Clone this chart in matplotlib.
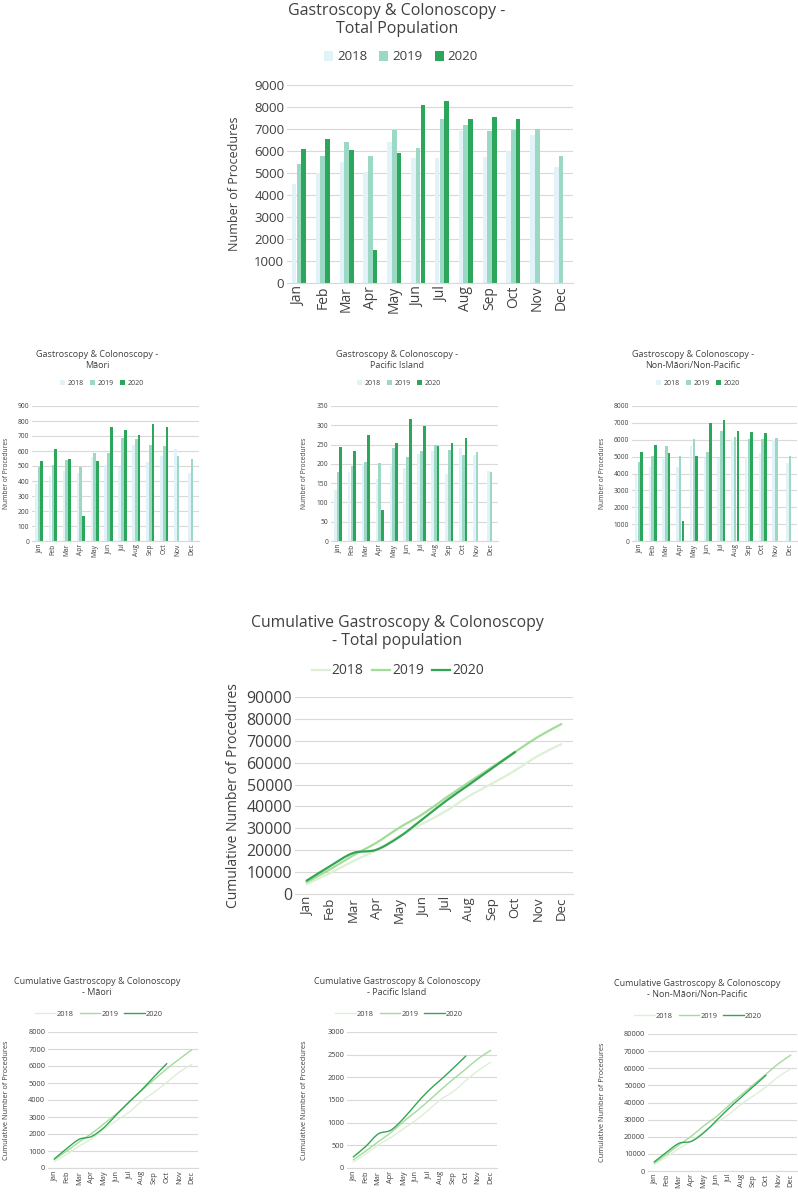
import matplotlib
matplotlib.use("Agg")
import matplotlib.pyplot as plt
from matplotlib.path import Path
from matplotlib.patches import PathPatch
from matplotlib.lines import Line2D
import numpy as np

plt.rcParams['font.family'] = ['Open Sans', 'DejaVu Sans']

W, H = 798, 1192
months = ["Jan", "Feb", "Mar", "Apr", "May", "Jun", "Jul", "Aug", "Sep", "Oct", "Nov", "Dec"]
years = ["2018", "2019", "2020"]

# ---- Monthly procedures ----
total_2018 = [4490, 4980, 5480, 5040, 6420, 5700, 5680, 6890, 5750, 6010, 6740, 5280]
total_2019 = [5400, 5770, 6390, 5770, 6950, 6130, 7440, 7160, 6920, 6950, 6980, 5770]
total_2020 = [6085, 6555, 6040, 1490, 5890, 8070, 8250, 7470, 7530, 7470]

maori_2018 = [378, 434, 467, 454, 557, 509, 496, 642, 527, 564, 613, 451]
maori_2019 = [496, 504, 540, 493, 584, 586, 688, 677, 637, 631, 569, 549]
maori_2020 = [531, 613, 546, 168, 535, 761, 739, 704, 781, 763]

pacific_2018 = [132, 179, 199, 160, 194, 188, 225, 234, 175, 242, 223, 181]
pacific_2019 = [180, 194, 204, 201, 242, 219, 234, 249, 236, 224, 230, 180]
pacific_2020 = [244, 233, 275, 81, 254, 316, 298, 246, 255, 266]

other_2018 = [3910, 4380, 4850, 4380, 5620, 4910, 4910, 5970, 4990, 5190, 5970, 4600]
other_2019 = [4680, 5030, 5620, 5030, 6070, 5300, 6500, 6190, 6050, 6050, 6130, 5030]
other_2020 = [5300, 5680, 5190, 1180, 5030, 6970, 7170, 6500, 6460, 6420]

# ---- Cumulative procedures ----
cum_total_2018 = [4490, 9470, 14950, 19990, 26410, 32110, 37790, 44680, 50430, 56440, 63180, 68460]
cum_total_2019 = [5400, 11170, 17560, 23330, 30280, 36410, 43850, 51010, 57930, 64880, 71860, 77630]
cum_total_2020 = [6085, 12640, 18680, 20170, 26060, 34130, 42380, 49850, 57380, 64850]

cum_maori_2018 = [378, 812, 1279, 1733, 2290, 2799, 3295, 3937, 4464, 5028, 5641, 6092]
cum_maori_2019 = [496, 1000, 1540, 2033, 2617, 3203, 3891, 4568, 5205, 5836, 6405, 6954]
cum_maori_2020 = [531, 1144, 1690, 1858, 2393, 3154, 3893, 4597, 5378, 6141]

cum_pacific_2018 = [132, 311, 510, 670, 864, 1052, 1277, 1511, 1686, 1928, 2151, 2332]
cum_pacific_2019 = [180, 374, 578, 779, 1021, 1240, 1474, 1723, 1959, 2183, 2413, 2593]
cum_pacific_2020 = [244, 477, 752, 833, 1087, 1403, 1701, 1947, 2202, 2468]

cum_other_2018 = [3910, 8290, 13140, 17520, 23140, 28050, 32960, 38930, 43920, 49110, 55080, 59680]
cum_other_2019 = [4680, 9710, 15330, 20360, 26430, 31730, 38230, 44420, 50470, 56520, 62650, 67680]
cum_other_2020 = [5300, 10980, 16170, 17350, 22380, 29350, 36520, 43020, 49480, 55900]

bar_colors = ["#E1F3F8", "#9CD9C4", "#2BA65A"]
line_colors = ["#DDF0D6", "#A2DC99", "#33A553"]
grid_c = "#D9D9D9"
text_c = "#404040"

fig = plt.figure(figsize=(W / 100, H / 100), dpi=100)
fig.patch.set_facecolor("white")


def ax_px(l, t, r, b):
    return fig.add_axes([l / W, 1 - b / H, (r - l) / W, (b - t) / H])


def style(ax, ymax, step, tick_fs, month_fs, ylabel, ylab_x, ylab_fs):
    ax.set_ylim(0, ymax)
    ax.set_yticks(np.arange(0, ymax + step / 2, step))
    ax.set_xlim(-0.5, 11.5)
    ax.set_xticks(range(12))
    ax.set_xticklabels(months, rotation=90, fontsize=month_fs, color=text_c)
    for lab in ax.get_yticklabels():
        lab.set_fontsize(tick_fs)
        lab.set_color(text_c)
    for s in ["top", "right", "left"]:
        ax.spines[s].set_visible(False)
    ax.spines["bottom"].set_color(grid_c)
    ax.spines["bottom"].set_linewidth(0.8)
    ax.tick_params(axis="both", length=0, pad=2)
    ax.yaxis.grid(True, color=grid_c, linewidth=0.8)
    ax.set_axisbelow(True)
    ax.set_ylabel(ylabel, fontsize=ylab_fs, color=text_c)
    bb = ax.get_position()
    ax.yaxis.set_label_coords(ylab_x / W, (bb.y0 + bb.y1) / 2, transform=fig.transFigure)


def title(text, cx, cy, fs):
    fig.text(cx / W, 1 - cy / H, text, ha="center", va="center", fontsize=fs,
             color=text_c, linespacing=1.2)


def bar_chart(box, data, ymax, step, tick_fs, month_fs, ylab_x, ylab_fs,
              ttl, tx, ty, tfs, lx, ly, lfs, bw, colsp):
    ax = ax_px(*box)
    x = np.arange(12)
    offs = [-bw * 1.05, 0, bw * 1.05]
    for i, (vals, c) in enumerate(zip(data, bar_colors)):
        xi = x[:len(vals)] + offs[i]
        ax.bar(xi, vals, width=bw, color=c, label=years[i], linewidth=0)
    style(ax, ymax, step, tick_fs, month_fs, "Number of Procedures", ylab_x, ylab_fs)
    title(ttl, tx, ty, tfs)
    ax.legend(loc="center", bbox_to_anchor=(lx / W, 1 - ly / H),
              bbox_transform=fig.transFigure, ncol=3, frameon=False,
              fontsize=lfs, handlelength=0.7, handleheight=0.7,
              handletextpad=0.3, columnspacing=colsp, labelcolor=text_c)
    return ax


def smooth_path(xs, ys):
    """Smoothed (Excel-style) curve through the data points as cubic Beziers."""
    pts = np.column_stack([xs, ys]).astype(float)
    n = len(pts)
    verts = [pts[0]]
    codes = [Path.MOVETO]
    for i in range(n - 1):
        p0 = pts[i - 1] if i > 0 else pts[i]
        p1 = pts[i]
        p2 = pts[i + 1]
        p3 = pts[i + 2] if i + 2 < n else pts[i + 1]
        verts += [p1 + (p2 - p0) / 6.0, p2 - (p3 - p1) / 6.0, p2]
        codes += [Path.CURVE4] * 3
    return Path(verts, codes)


def line_chart(box, data, ymax, step, tick_fs, month_fs, ylab_x, ylab_fs,
               ttl, tx, ty, tfs, lx, ly, lfs, lw, hl, colsp):
    ax = ax_px(*box)
    x = np.arange(12)
    handles = []
    for i, (vals, c) in enumerate(zip(data, line_colors)):
        patch = PathPatch(smooth_path(x[:len(vals)], vals), fill=False, edgecolor=c,
                          linewidth=lw, capstyle="round", joinstyle="round",
                          zorder=3 + i, label=years[i])
        ax.add_patch(patch)
        handles.append(Line2D([], [], color=c, linewidth=lw, label=years[i]))
    style(ax, ymax, step, tick_fs, month_fs, "Cumulative Number of Procedures",
          ylab_x, ylab_fs)
    title(ttl, tx, ty, tfs)
    ax.legend(handles=handles, loc="center", bbox_to_anchor=(lx / W, 1 - ly / H),
              bbox_transform=fig.transFigure, ncol=3, frameon=False,
              fontsize=lfs, handlelength=hl, handletextpad=0.15,
              columnspacing=colsp, labelcolor=text_c)
    return ax


# ---------------- Top bar chart ----------------
bar_chart((287, 85, 573, 283), [total_2018, total_2019, total_2020], 9000, 1000,
          9.5, 10, 241, 9,
          "Gastroscopy & Colonoscopy -\nTotal Population", 397, 20, 11.5,
          401, 57, 9.5, 0.19, 0.9)

# ---------------- Small bar charts ----------------
bar_chart((32, 406, 199, 541), [maori_2018, maori_2019, maori_2020], 900, 100,
          4.8, 4.8, 10, 4.8,
          "Gastroscopy & Colonoscopy -\nMāori", 97, 360, 6.5,
          102, 383, 5, 0.19, 1.0)
bar_chart((331, 406, 498, 541), [pacific_2018, pacific_2019, pacific_2020], 350, 50,
          4.8, 4.8, 308, 4.8,
          "Gastroscopy & Colonoscopy -\nPacific Island", 397, 360, 6.5,
          399, 383, 5, 0.19, 1.0)
bar_chart((632, 406, 797, 541), [other_2018, other_2019, other_2020], 8000, 1000,
          4.8, 4.8, 606, 4.8,
          "Gastroscopy & Colonoscopy -\nNon-Māori/Non-Pacific", 693, 360, 6.5,
          698, 383, 5, 0.19, 1.0)

# ---------------- Cumulative total ----------------
line_chart((295, 697, 573, 894), [cum_total_2018, cum_total_2019, cum_total_2020],
           90000, 10000, 11.5, 9.5, 241, 10,
           "Cumulative Gastroscopy & Colonoscopy\n- Total population", 397, 632, 11.3,
           398, 671, 10, 1.6, 1.3, 0.6)

# ---------------- Small cumulative charts ----------------
line_chart((48, 1032, 198, 1168), [cum_maori_2018, cum_maori_2019, cum_maori_2020],
           8000, 1000, 5.3, 5.3, 10, 5.3,
           "Cumulative Gastroscopy & Colonoscopy\n- Māori", 97, 987, 6.5,
           99, 1014, 5.3, 1.0, 2.8, 0.8)
line_chart((347, 1032, 497, 1168), [cum_pacific_2018, cum_pacific_2019, cum_pacific_2020],
           3000, 500, 5.3, 5.3, 308, 5.3,
           "Cumulative Gastroscopy & Colonoscopy\n- Pacific Island", 397, 987, 6.5,
           399, 1014, 5.3, 1.0, 2.8, 0.8)
line_chart((648, 1034, 797, 1171), [cum_other_2018, cum_other_2019, cum_other_2020],
           80000, 10000, 5.3, 5.3, 606, 5.3,
           "Cumulative Gastroscopy & Colonoscopy\n- Non-Māori/Non-Pacific", 697, 989, 6.5,
           698, 1016, 5.3, 1.0, 2.8, 0.8)

fig.savefig("out.png", dpi=100, facecolor="white")
